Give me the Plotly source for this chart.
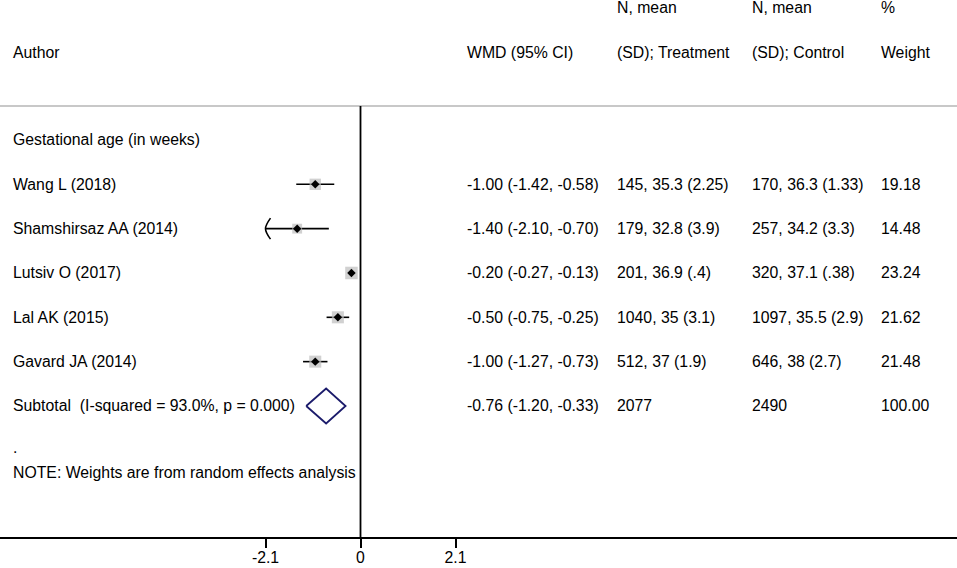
import plotly.graph_objects as go

# study data (gestational age, weeks)
authors = ["Wang L (2018)", "Shamshirsaz AA (2014)", "Lutsiv O (2017)",
           "Lal AK (2015)", "Gavard JA (2014)"]
wmd = [-1.00, -1.40, -0.20, -0.50, -1.00]
ci_low = [-1.42, -2.10, -0.27, -0.75, -1.27]
ci_high = [-0.58, -0.70, -0.13, -0.25, -0.73]
treatment = ["145, 35.3 (2.25)", "179, 32.8 (3.9)", "201, 36.9 (.4)",
             "1040, 35 (3.1)", "512, 37 (1.9)"]
control = ["170, 36.3 (1.33)", "257, 34.2 (3.3)", "320, 37.1 (.38)",
           "1097, 35.5 (2.9)", "646, 38 (2.7)"]
weights = [19.18, 14.48, 23.24, 21.62, 21.48]

# pooled estimate
pooled = [-0.76, -1.20, -0.33]
n_treat_total = 2077
n_ctrl_total = 2490
subtotal_label = "Subtotal\u00a0 (I-squared = 93.0%, p = 0.000)"
group_label = "Gestational age (in weeks)"
note = "NOTE: Weights are from random effects analysis"

tick_vals = [-2.1, 0, 2.1]
tick_text = ["-2.1", "0", "2.1"]

FONT = "Liberation Sans, Arial, sans-serif"
xr = [-7.969, 13.186]
yr = [8.956, -3.158]
px_x = 45.24      # pixels per unit on x
px_y = 44.33      # pixels per row

col_author = -7.72
col_wmd = 2.31
col_treat = 5.63
col_ctrl = 8.61
col_weight = 11.46

rows = [i + 1 for i in range(len(authors))]
sub_row = len(authors) + 1

fig = go.Figure()

# confidence interval lines (clipped at axis minimum, arrow drawn)
for r, lo, hi in zip(rows, ci_low, ci_high):
    lo_c = max(lo, tick_vals[0])
    fig.add_trace(go.Scatter(x=[lo_c, hi], y=[r, r], mode="lines",
                             line=dict(color="black", width=1.6),
                             hoverinfo="skip", showlegend=False))
    if lo <= tick_vals[0]:
        dx = 5 / px_x
        dy = 10.5 / px_y
        fig.add_trace(go.Scatter(x=[lo_c + dx, lo_c, lo_c + dx],
                                 y=[r - dy, r, r + dy], mode="lines",
                                 line=dict(color="black", width=1.6, shape="spline"),
                                 hoverinfo="skip", showlegend=False))

# weight boxes
max_w = max(weights)
fig.add_trace(go.Scatter(
    x=wmd, y=rows, mode="markers",
    marker=dict(symbol="square", color="#bdbdbd",
                size=[12.5 * (w / max_w) ** 0.5 for w in weights], line=dict(width=0)),
    hoverinfo="skip", showlegend=False))

# point estimates
fig.add_trace(go.Scatter(
    x=wmd, y=rows, mode="markers",
    marker=dict(symbol="diamond", color="black", size=6.5, line=dict(width=0)),
    hoverinfo="skip", showlegend=False))

# pooled diamond
h = 17.5 / px_y
est, plo, phi = pooled
fig.add_trace(go.Scatter(
    x=[plo, est, phi, est, plo], y=[sub_row, sub_row - h, sub_row, sub_row + h, sub_row],
    mode="lines", line=dict(color="#1b1b6b", width=1.8),
    hoverinfo="skip", showlegend=False))

# text
ann = []


def txt(x, y, s):
    ann.append(dict(x=x, y=y, xref="x", yref="y", text=s, showarrow=False,
                    xanchor="left", yanchor="middle",
                    font=dict(family=FONT, size=15.8, color="black")))


top_row = -3.0
head_row = -1.985
txt(col_author, head_row, "Author")
txt(col_wmd, head_row, "WMD (95% CI)")
txt(col_treat, top_row, "N, mean")
txt(col_treat, head_row, "(SD); Treatment")
txt(col_ctrl, top_row, "N, mean")
txt(col_ctrl, head_row, "(SD); Control")
txt(col_weight, top_row, "%")
txt(col_weight, head_row, "Weight")

txt(col_author, 0, group_label)
for r, a, m, lo, hi, t, c, w in zip(rows, authors, wmd, ci_low, ci_high,
                                    treatment, control, weights):
    txt(col_author, r, a)
    txt(col_wmd, r, f"{m:.2f} ({lo:.2f}, {hi:.2f})")
    txt(col_treat, r, t)
    txt(col_ctrl, r, c)
    txt(col_weight, r, f"{w:.2f}")

txt(col_author, sub_row, subtotal_label)
txt(col_wmd, sub_row, f"{est:.2f} ({plo:.2f}, {phi:.2f})")
txt(col_treat, sub_row, str(n_treat_total))
txt(col_ctrl, sub_row, str(n_ctrl_total))
txt(col_weight, sub_row, f"{sum(weights):.2f}")
txt(col_author, sub_row + 0.93, ".")
txt(col_author, sub_row + 1.49, note)

line_row = -0.767
shapes = [
    dict(type="line", xref="paper", yref="y", x0=0, x1=1, y0=line_row, y1=line_row,
         line=dict(color="#c8c8c8", width=2)),
    dict(type="line", xref="x", yref="y", x0=0, x1=0, y0=line_row, y1=yr[0],
         line=dict(color="black", width=1.8)),
]

fig.update_layout(
    width=957, height=568,
    margin=dict(l=0, r=0, t=0, b=31),
    paper_bgcolor="white", plot_bgcolor="white",
    annotations=ann, shapes=shapes,
    xaxis=dict(range=xr, showgrid=False, zeroline=False, showline=True,
               linecolor="black", linewidth=1.6, ticks="outside", ticklen=9,
               tickwidth=1.6, tickcolor="black", tickvals=tick_vals, ticktext=tick_text,
               ticklabelstandoff=-4,
               tickfont=dict(family=FONT, size=15.8, color="black"), automargin=False,
               fixedrange=True),
    yaxis=dict(range=yr, visible=False, showgrid=False, zeroline=False, fixedrange=True),
)

# drop the page margin so the figure fills the window
fig.write_html("out.html", config={"displayModeBar": False},
               post_script="document.body.style.margin='0';")
